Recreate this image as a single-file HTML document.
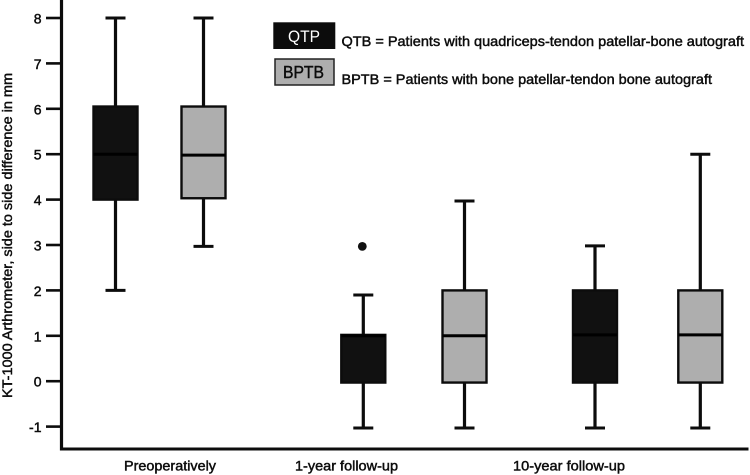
<!DOCTYPE html>
<html>
<head>
<meta charset="utf-8">
<style>
html,body{margin:0;padding:0;background:#fff;}
svg{display:block;}
text{font-family:"Liberation Sans",sans-serif;fill:#0c0c0c;stroke:#0c0c0c;stroke-width:.45px;}
</style>
</head>
<body>
<svg id="chart" width="750" height="475" viewBox="0 0 750 475" xmlns="http://www.w3.org/2000/svg">
  <g id="marks"></g>
  <g id="axes"></g>
  <text transform="translate(12,398) rotate(-90)" font-size="14" textLength="325" lengthAdjust="spacingAndGlyphs">KT-1000 Arthrometer, side to side difference in mm</text>
  <g>
    <rect x="273.3" y="22.3" width="62" height="26.7" fill="#0c0c0c"/>
    <text x="288" y="42" font-size="17" textLength="32" lengthAdjust="spacingAndGlyphs" style="fill:#fff;stroke:none">QTP</text>
    <text x="341.5" y="46" font-size="14" textLength="402.5" lengthAdjust="spacingAndGlyphs">QTB = Patients with quadriceps-tendon patellar-bone autograft</text>
    <rect x="275" y="59" width="59" height="26" fill="#aeaeae" stroke="#222" stroke-width="1.5"/>
    <text x="283" y="78" font-size="17.5" textLength="41" lengthAdjust="spacingAndGlyphs">BPTB</text>
    <text x="341.5" y="84" font-size="14" textLength="370.5" lengthAdjust="spacingAndGlyphs">BPTB = Patients with bone patellar-tendon bone autograft</text>
  </g>
</svg>
<script>
const groupLabels = ['Preoperatively', '1-year follow-up', '10-year follow-up'];
const boxNames = ['pre-qtp', 'pre-bptb', 'year1-qtp', 'year1-bptb', 'year10-qtp', 'year10-bptb'];
const boxMin = [2, 2.97, -1.03, -1.03, -1.03, -1.03];
const boxQ1 = [4, 4.03, -0.03, -0.03, -0.03, -0.03];
const boxMedian = [5, 4.98, 1, 1, 1.02, 1.02];
const boxQ3 = [6.05, 6.05, 1.02, 2, 2, 2];
const boxMax = [8, 8, 1.9, 3.97, 2.98, 5];
const boxOutlier = [null, null, 2.97, null, null, null];
const boxGroup = ['qtp', 'bptb', 'qtp', 'bptb', 'qtp', 'bptb'];
const yTicks = [-1, 0, 1, 2, 3, 4, 5, 6, 7, 8];

const NS = 'http://www.w3.org/2000/svg';
const marks = document.getElementById('marks');
const axes = document.getElementById('axes');

function yScale(v) { return 381.2 - 45.4 * v; }
function xScale(i) {
  const slot = [115.5, 203.5, 363.3, 464.5, 595, 700.3];
  return slot[i];
}
function groupX(g) {
  const slot = [170, 346.5, 569];
  return slot[g];
}
function groupLabelWidth(g) {
  const widths = [92, 103, 112];
  return widths[g];
}
function make(tag, attrs, parent) {
  const el = document.createElementNS(NS, tag);
  for (const k in attrs) el.setAttribute(k, attrs[k]);
  parent.appendChild(el);
  return el;
}

const boxWidth = 44;
boxNames.forEach(function (name, i) {
  const cx = xScale(i);
  const isQtp = boxGroup[i] === 'qtp';
  const g = make('g', {}, marks);
  
  

  const whisker = make('line', { x1: cx, x2: cx, y1: yScale(boxMin[i]), y2: yScale(boxMax[i]), stroke: '#0c0c0c', 'stroke-width': 3.2 }, g);
  
  

  const capLow = make('line', { x1: cx - 10, x2: cx + 10, y1: yScale(boxMin[i]), y2: yScale(boxMin[i]), stroke: '#0c0c0c', 'stroke-width': 3 }, g);
  
  

  const capHigh = make('line', { x1: cx - 10, x2: cx + 10, y1: yScale(boxMax[i]), y2: yScale(boxMax[i]), stroke: '#0c0c0c', 'stroke-width': 3 }, g);
  
  

  const body = make('rect', {
    x: cx - boxWidth / 2, y: yScale(boxQ3[i]), width: boxWidth,
    height: yScale(boxQ1[i]) - yScale(boxQ3[i]),
    fill: isQtp ? '#111111' : '#aeaeae', stroke: '#0c0c0c', 'stroke-width': 2.4
  }, g);
  
  

  const median = make('line', { x1: cx - boxWidth / 2, x2: cx + boxWidth / 2, y1: yScale(boxMedian[i]), y2: yScale(boxMedian[i]), stroke: '#000', 'stroke-width': 3 }, g);
  
  

  if (boxOutlier[i] !== null) {
    const dot = make('circle', { cx: cx - 1, cy: yScale(boxOutlier[i]), r: 4.4, fill: '#111' }, g);
    
    
  }
});

const yAxis = make('line', { x1: 61.5, x2: 61.5, y1: 0, y2: 450.5, stroke: '#0c0c0c', 'stroke-width': 3.2 }, axes);



const xAxis = make('line', { x1: 60, x2: 748.5, y1: 449, y2: 449, stroke: '#0c0c0c', 'stroke-width': 3 }, axes);



yTicks.forEach(function (t) {
  const y = yScale(t);
  const tick = make('line', { x1: 46, x2: 61, y1: y, y2: y, stroke: '#0c0c0c', 'stroke-width': 2.6 }, axes);
  
  

  const label = make('text', { x: 41.5, y: y + 5.5, 'text-anchor': 'end', 'font-size': 14 }, axes);
  label.textContent = String(t);
  
  
});

groupLabels.forEach(function (text, g) {
  const label = make('text', { x: groupX(g), y: 470.5, 'text-anchor': 'middle', 'font-size': 14, textLength: groupLabelWidth(g), lengthAdjust: 'spacingAndGlyphs' }, axes);
  label.textContent = text;
  
  
});
</script>
</body>
</html>
